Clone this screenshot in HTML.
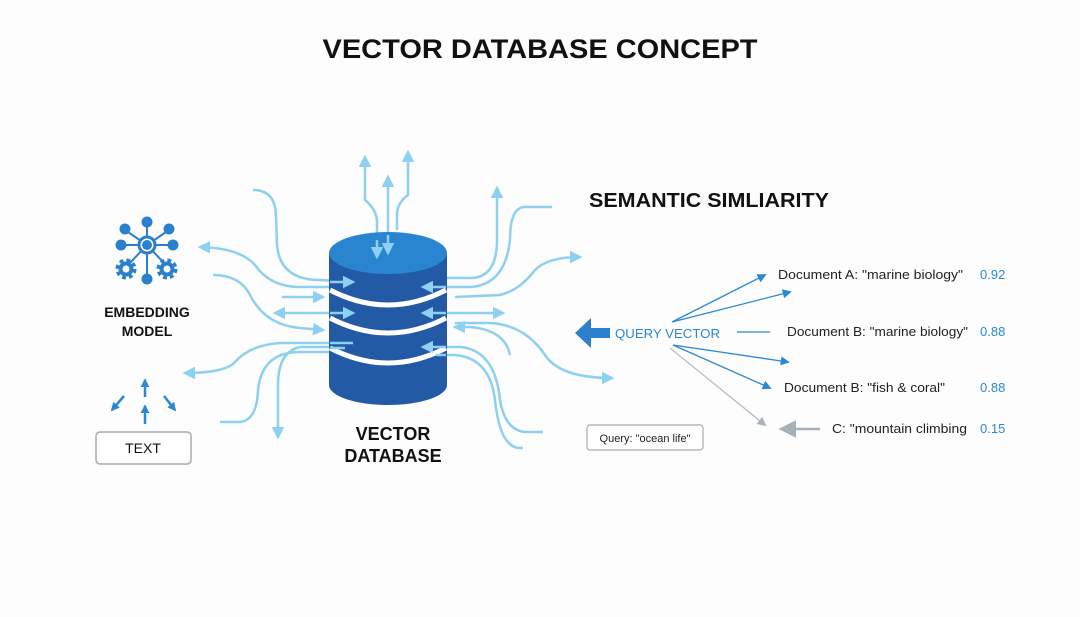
<!DOCTYPE html>
<html><head><meta charset="utf-8"><style>
html,body{margin:0;padding:0;background:#fdfdfd;}
svg{display:block;font-family:"Liberation Sans",sans-serif;}
</style></head><body>
<svg width="1080" height="617" viewBox="0 0 1080 617" xmlns="http://www.w3.org/2000/svg">
<defs>
<marker id="a" viewBox="0 0 10 10" refX="8" refY="5" markerWidth="5" markerHeight="5" orient="auto-start-reverse"><path d="M0,0L10,5L0,10z" fill="#8dd0f0"/></marker>
<marker id="b" viewBox="0 0 10 10" refX="8" refY="5" markerWidth="7" markerHeight="7" orient="auto-start-reverse"><path d="M0,0L10,5L0,10z" fill="#2a88d4"/></marker>
<marker id="g" viewBox="0 0 10 10" refX="8" refY="5" markerWidth="7" markerHeight="7" orient="auto-start-reverse"><path d="M0,0L10,5L0,10z" fill="#a8b0b8"/></marker>
<marker id="s" viewBox="0 0 10 10" refX="8" refY="5" markerWidth="3.5" markerHeight="3.5" orient="auto"><path d="M0,0L10,5L0,10z" fill="#2a88d4"/></marker>
</defs>
<rect width="1080" height="617" fill="#fdfdfd"/>
<text x="540" y="58" text-anchor="middle" font-size="27" font-weight="bold" fill="#111" textLength="435" lengthAdjust="spacingAndGlyphs">VECTOR DATABASE CONCEPT</text>

<g fill="none" stroke="#8dd0f0" stroke-width="2.5">
<path d="M377,257 L377,222 Q377,210 365,200 L365,157" marker-start="url(#a)" marker-end="url(#a)"/>
<path d="M388,253 L388,177" marker-start="url(#a)" marker-end="url(#a)"/>
<path d="M397,230 L397,215 Q397,203 408,195 L408,152" marker-end="url(#a)"/>
<path d="M253,190 Q275,190 276,215 L277,245 Q280,280 320,280 L353,282" marker-end="url(#a)"/>
<path d="M353,287 L300,287 Q270,287 255,265 Q240,248 200,247" marker-end="url(#a)"/>
<path d="M282,297 L323,297" marker-end="url(#a)"/>
<path d="M275,313 L353,313" marker-start="url(#a)" marker-end="url(#a)"/>
<path d="M213,275 Q240,275 250,295 Q265,325 300,328 L323,330" marker-end="url(#a)"/>
<path d="M353,343 L280,343 Q250,345 235,362 Q225,373 185,373" marker-end="url(#a)"/>
<path d="M345,347 L300,347 Q278,352 278,385 L278,437" marker-end="url(#a)"/>
<path d="M220,422 L240,422 Q257,420 258,390 Q262,352 300,352 L330,352"/>
<path d="M430,278 L470,278 Q497,278 497,240 L497,188" marker-end="url(#a)"/>
<path d="M552,207 L525,207 Q510,207 510,240 Q505,285 470,287 L423,287" marker-end="url(#a)"/>
<path d="M455,297 L500,295 Q520,290 535,270 Q548,257 580,257" marker-end="url(#a)"/>
<path d="M423,313 L503,313" marker-start="url(#a)" marker-end="url(#a)"/>
<path d="M510,355 Q505,330 470,327 L455,327" marker-end="url(#a)"/>
<path d="M455,323 L490,323 Q525,325 545,355 Q560,378 612,378" marker-end="url(#a)"/>
<path d="M543,432 L525,432 Q505,430 500,400 Q495,350 460,347 L423,347" marker-end="url(#a)"/>
<path d="M433,355 L455,355 Q490,358 495,400 Q500,448 520,448 L523,448"/>
</g>

<path d="M329,253 L329,385 A59,20 0 0 0 447,385 L447,253 Z" fill="#235aa6"/>
<ellipse cx="388" cy="253" rx="59" ry="21" fill="#2a85d0"/>
<g fill="none" stroke="#fff" stroke-width="5">
<path d="M330,290 Q388,320 446,290"/>
<path d="M330,318 Q388,348 446,318"/>
<path d="M330,348 Q388,378 446,348"/>
</g>
<g fill="none" stroke="#8dd0f0" stroke-width="2.5">
<path d="M330,282 L353,282" marker-end="url(#a)"/><path d="M330,313 L353,313" marker-end="url(#a)"/>
<path d="M330,343 L353,343"/><path d="M330,348 L345,348"/>
<path d="M446,287 L423,287" marker-end="url(#a)"/><path d="M446,313 L423,313" marker-end="url(#a)"/>
<path d="M446,347 L423,347" marker-end="url(#a)"/><path d="M436,355 L446,355"/>
<path d="M377,240 L377,257" marker-end="url(#a)"/><path d="M388,235 L388,253" marker-end="url(#a)"/>
</g>
<text x="393" y="440" text-anchor="middle" font-size="18" font-weight="bold" fill="#111">VECTOR</text>
<text x="393" y="462" text-anchor="middle" font-size="18" font-weight="bold" fill="#111">DATABASE</text>

<g stroke="#2a80cc" stroke-width="2" fill="#2a80cc">
<line x1="147" y1="245" x2="147" y2="222"/><line x1="147" y1="245" x2="125" y2="230"/><line x1="147" y1="245" x2="169" y2="230"/>
<line x1="147" y1="245" x2="121" y2="245"/><line x1="147" y1="245" x2="173" y2="245"/><line x1="147" y1="245" x2="147" y2="278"/>
<line x1="147" y1="245" x2="128" y2="265"/><line x1="147" y1="245" x2="166" y2="265"/>
<circle cx="147" cy="222" r="4.5"/><circle cx="125" cy="229" r="4.5"/><circle cx="169" cy="229" r="4.5"/>
<circle cx="121" cy="245" r="4.5"/><circle cx="173" cy="245" r="4.5"/><circle cx="147" cy="279" r="4.5"/>
<circle cx="147" cy="245" r="8" fill="#fff" stroke-width="3"/><circle cx="147" cy="245" r="4"/>
<circle cx="126" cy="269" r="8" fill="none" stroke-width="5" stroke-dasharray="3.5 2.8"/>
<circle cx="126" cy="269" r="5.5" fill="none" stroke-width="4"/>
<circle cx="167" cy="269" r="8" fill="none" stroke-width="5" stroke-dasharray="3.5 2.8"/>
<circle cx="167" cy="269" r="5.5" fill="none" stroke-width="4"/>
</g>
<text x="147" y="317" text-anchor="middle" font-size="14" font-weight="bold" fill="#111">EMBEDDING</text>
<text x="147" y="336" text-anchor="middle" font-size="14" font-weight="bold" fill="#111">MODEL</text>
<g stroke="#2a88d4" stroke-width="2.5" fill="none">
<path d="M145,397 L145,380" marker-end="url(#s)"/><path d="M145,424 L145,406" marker-end="url(#s)"/>
<path d="M124,396 L112,410" marker-end="url(#s)"/><path d="M164,396 L175,410" marker-end="url(#s)"/>
</g>
<rect x="96" y="432" width="95" height="32" rx="4" fill="#fff" stroke="#aaa" stroke-width="1.5"/>
<text x="143" y="453" text-anchor="middle" font-size="14" fill="#111">TEXT</text>

<text x="589" y="207" font-size="20" font-weight="bold" fill="#111" textLength="240" lengthAdjust="spacingAndGlyphs">SEMANTIC SIMLIARITY</text>
<path d="M575,333 L591,318 L591,328 L610,328 L610,338 L591,338 L591,348 Z" fill="#2a80cc"/>
<text x="615" y="338" font-size="13" fill="#2a88d4" textLength="105" lengthAdjust="spacingAndGlyphs">QUERY VECTOR</text>
<g stroke="#2a88d4" stroke-width="1.3" fill="none">
<path d="M672,322 L765,275" marker-end="url(#b)"/>
<path d="M672,322 L790,292" marker-end="url(#b)"/>
<path d="M737,332 L770,332"/>
<path d="M673,345 L788,362" marker-end="url(#b)"/>
<path d="M673,345 L770,388" marker-end="url(#b)"/>
</g>
<path d="M670,348 L765,425" stroke="#b8bec4" stroke-width="1.3" fill="none" marker-end="url(#g)"/>
<path d="M820,429 L782,429" stroke="#a8b0b8" stroke-width="2.5" fill="none" marker-end="url(#g)"/>
<g font-size="13" fill="#222">
<text x="778" y="279" textLength="185" lengthAdjust="spacingAndGlyphs">Document A: "marine biology"</text>
<text x="787" y="336" textLength="181" lengthAdjust="spacingAndGlyphs">Document B: "marine biology"</text>
<text x="784" y="392" textLength="161" lengthAdjust="spacingAndGlyphs">Document B: "fish &amp; coral"</text>
<text x="832" y="433" textLength="135" lengthAdjust="spacingAndGlyphs">C: "mountain climbing</text>
</g>
<g font-size="13" fill="#2a88d4">
<text x="980" y="279">0.92</text><text x="980" y="336">0.88</text><text x="980" y="392">0.88</text><text x="980" y="433">0.15</text>
</g>
<rect x="587" y="425" width="116" height="25" rx="3" fill="#fff" stroke="#aaa" stroke-width="1.2"/>
<text x="645" y="442" text-anchor="middle" font-size="11" fill="#222">Query: "ocean life"</text>
</svg>
</body></html>
